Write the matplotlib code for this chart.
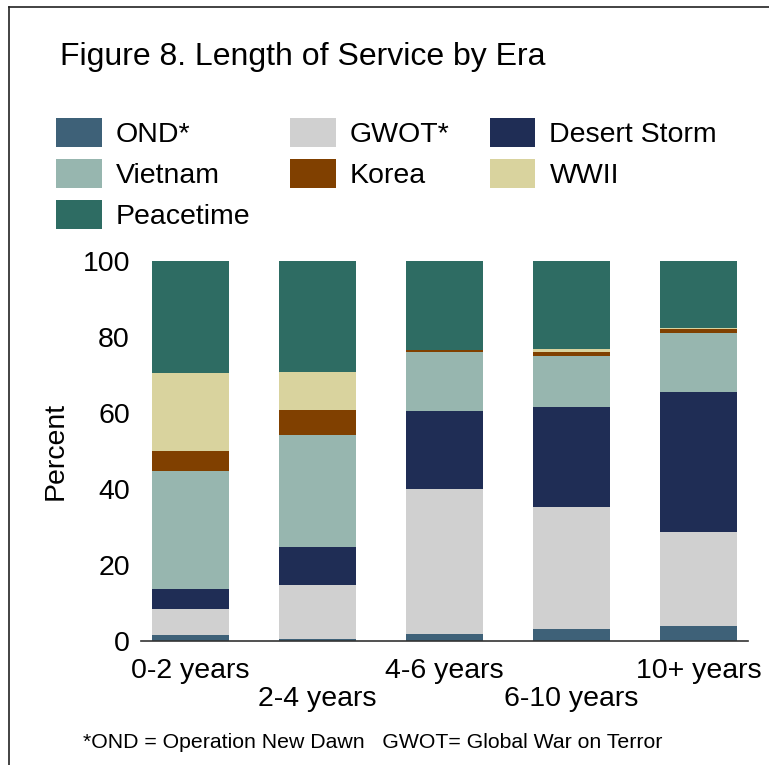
import numpy as np
import matplotlib
matplotlib.use('Agg')
import matplotlib.pyplot as plt
from matplotlib.lines import Line2D

plt.rcParams['font.family'] = ['Liberation Sans', 'DejaVu Sans']

categories = ['0-2 years', '2-4 years', '4-6 years', '6-10 years', '10+ years']

# percent of each length-of-service group, by era (bottom to top of the stack)
ond = [1.6, 0.4, 1.8, 3.2, 3.9]
gwot = [6.8, 14.3, 38.2, 32.1, 24.8]
desert_storm = [5.2, 10.1, 20.5, 26.3, 36.8]
vietnam = [31.1, 29.3, 15.6, 13.3, 15.6]
korea = [5.2, 6.7, 0.5, 1.1, 0.9]
wwii = [20.5, 10.0, 0.1, 0.8, 0.3]
peacetime = [29.6, 29.2, 23.4, 23.2, 17.7]

series = [
    ('OND*', ond, '#3E6178'),
    ('GWOT*', gwot, '#D0D0D0'),
    ('Desert Storm', desert_storm, '#1F2D55'),
    ('Vietnam', vietnam, '#97B6AF'),
    ('Korea', korea, '#804000'),
    ('WWII', wwii, '#D9D39E'),
    ('Peacetime', peacetime, '#2E6C63'),
]

fig = plt.figure(figsize=(7.69, 7.65), dpi=100)
W, H = 769, 765
ax = fig.add_axes([141 / W, 1 - 641 / H, 607 / W, 380 / H])

x = np.arange(len(categories))
bottom = np.zeros(len(categories))
bars = {}
for name, vals, col in series:
    b = ax.bar(x, vals, width=0.606, bottom=bottom, color=col, label=name, linewidth=0)
    bars[name] = b
    bottom += np.array(vals)

ax.set_xlim(-0.39, 4.39)
ax.set_ylim(0, 100)
ax.set_yticks([0, 20, 40, 60, 80, 100])
ax.tick_params(axis='both', length=0, labelsize=20.5)
ax.tick_params(axis='y', pad=8)
ax.tick_params(axis='x', pad=12)
ax.set_xticks(x)
ax.set_xticklabels([c if i % 2 == 0 else '\n' + c for i, c in enumerate(categories)],
                   linespacing=1.1)
for s in ['top', 'right', 'left']:
    ax.spines[s].set_visible(False)
ax.spines['bottom'].set_color('#333333')
ax.spines['bottom'].set_linewidth(1.2)
ax.set_ylabel('Percent', fontsize=20.5, labelpad=10)

# legend laid out row by row like the original (matplotlib fills by column)
order = ['OND*', 'Vietnam', 'Peacetime', 'GWOT*', 'Korea', 'Desert Storm', 'WWII']
fig.legend([bars[n] for n in order], order, loc='upper left',
           bbox_to_anchor=(56 / W, 1 - 118 / H), ncol=3, frameon=False,
           fontsize=20.5, handlelength=1.6, handleheight=1.2, handletextpad=0.5,
           columnspacing=1.4, labelspacing=0.38, borderpad=0, borderaxespad=0)

fig.text(60 / W, 1 - 65 / H, 'Figure 8. Length of Service by Era', fontsize=23,
         va='baseline', ha='left')
fig.text(83 / W, 1 - 748 / H, '*OND = Operation New Dawn   GWOT= Global War on Terror',
         fontsize=15.3, va='baseline', ha='left')

# frame lines at top and left of the picture
fig.add_artist(Line2D([9 / W, 1], [1 - 6.7 / H, 1 - 6.7 / H], color='#222222', lw=1.2))
fig.add_artist(Line2D([9 / W, 9 / W], [0, 1 - 6.7 / H], color='#222222', lw=1.2))

fig.savefig('out.png', dpi=100)
